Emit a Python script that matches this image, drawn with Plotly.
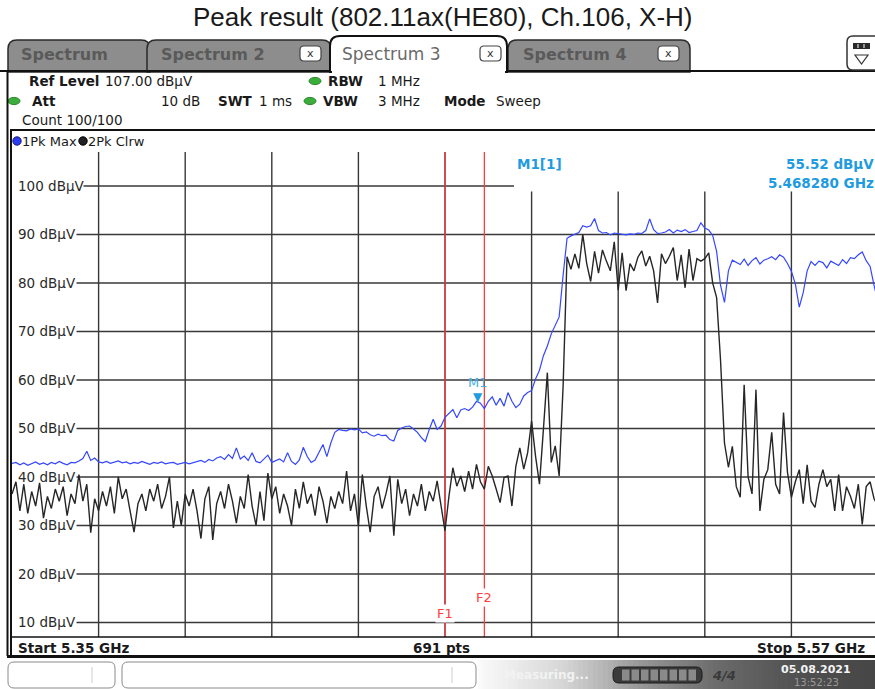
import plotly.graph_objects as go

# ---------------------------------------------------------------------------
# Sweep / display settings
# ---------------------------------------------------------------------------
F_START = 5.35          # GHz
F_STOP = 5.57           # GHz
REF_LEVEL = 107.0       # dBuV, top of the screen
BOTTOM_LEVEL = 7.0      # dBuV, 10 dB/div over 10 divisions
SWEEP_POINTS = 691

# one trace sample every 1 MHz across the span
freq_ghz = [round(F_START + 0.001 * k, 3) for k in range(221)]

# Trace 1 : 1Pk Max (dBuV)
pk_max = [
    42.8, 43.0, 42.5, 42.9, 42.4, 42.8, 43.1, 42.6, 42.9, 42.5,
    43.0, 42.7, 43.2, 42.8, 42.5, 43.0, 42.9, 43.3, 43.8, 45.3,
    43.4, 43.9, 43.1, 42.9, 43.2, 42.8, 43.0, 43.3, 42.9, 43.1,
    42.7, 43.0, 42.8, 43.2, 42.9, 42.6, 43.0, 42.8, 43.1, 42.7,
    42.9, 43.0, 42.6, 42.8, 43.0, 42.7, 42.9, 43.2, 43.4, 43.0,
    43.6, 43.3, 43.9, 44.2, 43.6, 44.6, 43.8, 46.0, 43.7, 44.3,
    43.4, 45.0, 43.2, 42.9, 43.6, 44.5, 43.0, 43.4, 43.7, 43.1,
    45.0, 43.2, 42.6, 43.5, 46.1, 44.2, 43.0, 43.5, 45.0, 46.7,
    44.2, 47.0, 49.2, 49.8, 49.6, 49.5, 49.9, 49.7, 49.9, 49.1,
    49.3, 48.7, 48.4, 48.8, 48.5, 48.6, 47.7, 47.4, 49.6, 50.1,
    50.4, 50.5, 49.9, 49.2, 48.1, 47.3, 49.8, 51.9, 49.8, 50.5,
    52.3, 53.2, 53.9, 52.2, 53.8, 54.1, 53.7, 54.4, 55.6, 55.2,
    54.1, 55.6, 56.5, 54.8, 56.2, 54.6, 57.4, 55.6, 54.3, 55.0,
    56.7, 57.4, 57.8, 60.2, 62.0, 65.0, 67.0, 69.5, 71.3, 73.0,
    81.5, 89.2, 89.7, 90.0, 90.4, 91.8, 91.5, 91.8, 93.3, 90.8,
    90.3, 90.4, 89.9, 90.3, 90.2, 90.0, 89.9, 90.1, 90.0, 90.3,
    90.2, 90.8, 93.2, 91.0, 90.2, 90.3, 90.5, 91.0, 90.3, 90.9,
    90.6, 91.0, 90.4, 90.6, 90.8, 92.4, 91.3, 90.9, 89.8, 86.5,
    79.5, 76.0, 82.5, 84.7, 84.3, 83.8, 84.9, 83.6, 84.6, 85.2,
    83.9, 84.7, 85.0, 85.4, 84.8, 85.8, 85.3, 84.0, 82.4, 79.8,
    75.0, 78.0, 82.5, 84.4, 83.6, 84.5, 84.2, 83.1, 84.5, 84.0,
    83.6, 84.8, 84.0, 85.2, 85.0, 85.8, 86.4, 84.6, 83.4, 79.5,
    76.0,
]

# Trace 2 : 2Pk Clrw (dBuV)
pk_clrw = [
    36.5, 39.0, 33.0, 38.5, 32.5, 37.0, 34.0, 38.8, 31.5, 36.0,
    33.5, 37.5, 35.0, 38.0, 32.0, 36.5, 34.5, 40.5, 35.0, 38.5,
    28.5, 35.5, 33.0, 37.0, 34.0, 38.0, 32.5, 40.0, 35.5, 37.5,
    33.0, 28.6, 34.5, 36.5, 33.0, 37.5, 35.0, 38.5, 33.5, 36.0,
    40.0, 29.5, 35.0, 30.0, 36.5, 34.0, 37.5, 33.0, 27.3, 35.5,
    38.0, 27.0, 34.5, 37.0, 33.5, 38.5, 35.0, 30.5, 36.0, 33.5,
    40.5, 34.0, 30.0, 37.0, 31.0, 40.8, 35.5, 38.0, 32.5, 36.5,
    34.0, 30.0, 37.5, 33.5, 39.0, 34.5, 36.5, 32.0, 38.0, 35.0,
    30.5, 36.0, 33.5, 37.0, 34.5, 41.2, 33.0, 36.5, 29.9, 40.5,
    34.0, 28.6, 36.0, 38.0, 33.5, 36.5, 40.2, 27.9, 39.5, 34.5,
    37.5, 32.0, 36.5, 34.0, 38.5, 33.0, 37.0, 35.0, 39.2, 34.5,
    28.9, 36.0, 41.9, 38.1, 40.2, 37.0, 41.2, 37.5, 42.6, 39.0,
    37.5, 42.2, 40.2, 37.5, 34.7, 39.9, 40.2, 34.0, 42.2, 46.0,
    41.6, 45.0, 51.5, 44.3, 38.5, 49.8, 61.5, 43.0, 46.4, 40.2,
    58.7, 85.4, 82.8, 86.0, 83.0, 90.0, 84.0, 80.3, 86.5, 82.0,
    86.8, 84.5, 82.5, 88.5, 78.5, 86.2, 78.4, 84.0, 82.5, 85.3,
    86.6, 83.5, 85.5, 82.5, 75.9, 86.0, 84.0, 85.5, 87.3, 80.5,
    85.8, 79.0, 87.0, 80.5, 85.0, 84.5, 85.0, 86.2, 80.0, 77.0,
    64.0, 47.0, 42.0, 46.3, 38.0, 35.8, 59.0, 40.0, 36.5, 58.0,
    33.0, 39.5, 41.5, 49.2, 38.5, 36.5, 53.3, 41.0, 35.8, 39.0,
    41.5, 34.5, 42.5, 35.0, 33.7, 38.5, 41.5, 38.0, 39.5, 33.0,
    40.5, 33.0, 38.0, 36.0, 33.5, 38.5, 30.2, 38.0, 39.0, 35.5,
    34.0,
]

level_ticks = [100, 90, 80, 70, 60, 50, 40, 30, 20, 10]
level_labels = [f"{v} dBµV" for v in level_ticks]

# frequency display lines (GHz)
f_line_names = ["F1", "F2"]
f_line_freqs = [5.46, 5.47]

# marker M1 on trace 1
m1_freq = 5.468280
m1_level = 55.52

title_text = "Peak result (802.11ax(HE80), Ch.106, X-H)"

# ---------------------------------------------------------------------------
# Screen geometry (pixels of the 875 x 689 page)
# ---------------------------------------------------------------------------
W, H = 875, 689
GRID_L, GRID_R = 12.0, 878.0        # the ten frequency divisions
PLOT_T, PLOT_B = 152.0, 637.0       # REF_LEVEL .. BOTTOM_LEVEL
MBOX_L, MBOX_B = 514.0, 191.5       # marker readout box in the top right

FONT = "DejaVu Sans"
MARKER_BLUE = "#1f9be0"


def px(x):
    return x / W


def py(y):
    return 1 - y / H


def level_at(ypix):
    return REF_LEVEL - (ypix - PLOT_T) / (PLOT_B - PLOT_T) * (REF_LEVEL - BOTTOM_LEVEL)


x_end = F_START + (W - GRID_L) / (GRID_R - GRID_L) * (F_STOP - F_START)

shapes = []
annotations = []


def hline(x0, x1, y, color="#111", width=2, layer="above"):
    shapes.append(dict(type="line", xref="paper", yref="paper", x0=px(x0), x1=px(x1),
                       y0=py(y), y1=py(y), line=dict(color=color, width=width), layer=layer))


def vline(x, y0, y1, color="#111", width=2, layer="above"):
    shapes.append(dict(type="line", xref="paper", yref="paper", x0=px(x), x1=px(x),
                       y0=py(y0), y1=py(y1), line=dict(color=color, width=width), layer=layer))


def rect(x0, y0, x1, y1, fill, line_color=None, width=0, layer="above"):
    shapes.append(dict(type="rect", xref="paper", yref="paper", x0=px(x0), x1=px(x1),
                       y0=py(y1), y1=py(y0), fillcolor=fill,
                       line=dict(color=line_color or fill, width=width), layer=layer))


def rounded(x0, y0, x1, y1, r, fill, line_color, width=1, top_only=False):
    if top_only:
        p = (f"M{px(x0)},{py(y1)} L{px(x0)},{py(y0 + r)} Q{px(x0)},{py(y0)} {px(x0 + r)},{py(y0)} "
             f"L{px(x1 - r)},{py(y0)} Q{px(x1)},{py(y0)} {px(x1)},{py(y0 + r)} L{px(x1)},{py(y1)} Z")
    else:
        p = (f"M{px(x0 + r)},{py(y0)} L{px(x1 - r)},{py(y0)} Q{px(x1)},{py(y0)} {px(x1)},{py(y0 + r)} "
             f"L{px(x1)},{py(y1 - r)} Q{px(x1)},{py(y1)} {px(x1 - r)},{py(y1)} "
             f"L{px(x0 + r)},{py(y1)} Q{px(x0)},{py(y1)} {px(x0)},{py(y1 - r)} "
             f"L{px(x0)},{py(y0 + r)} Q{px(x0)},{py(y0)} {px(x0 + r)},{py(y0)} Z")
    shapes.append(dict(type="path", xref="paper", yref="paper", path=p, fillcolor=fill,
                       line=dict(color=line_color, width=width), layer="above"))


def ellipse(cx, cy, rx, ry, fill, line_color):
    shapes.append(dict(type="circle", xref="paper", yref="paper", x0=px(cx - rx), x1=px(cx + rx),
                       y0=py(cy + ry), y1=py(cy - ry), fillcolor=fill,
                       line=dict(color=line_color, width=1), layer="above"))


def text(x, y, s, size=13.5, color="#1a1a1a", anchor="left", bold=False, family=FONT, bg=None):
    annotations.append(dict(x=px(x), y=py(y), xref="paper", yref="paper",
                            text=f"<b>{s}</b>" if bold else s, showarrow=False,
                            xanchor=anchor, yanchor="middle", borderpad=0,
                            bgcolor=bg, font=dict(family=family, size=size, color=color)))


# ---------------------------------------------------------------------------
# Title
# ---------------------------------------------------------------------------
text(443, 17, title_text, size=26, color="#1a1a1a", anchor="center", family="Liberation Sans")

# ---------------------------------------------------------------------------
# Tab bar
# ---------------------------------------------------------------------------
TAB_GRAY = "#8d8d8d"
rounded(8, 40, 150, 72, 9, TAB_GRAY, "#2a2a2a", 1.5, top_only=True)
rounded(147, 40, 331, 72, 9, TAB_GRAY, "#2a2a2a", 1.5, top_only=True)
rounded(508, 40, 690, 72, 9, TAB_GRAY, "#2a2a2a", 1.5, top_only=True)
hline(0, 875, 71, "#111", 2)
rounded(330, 36, 507, 72, 10, "white", "#111", 2, top_only=True)
rect(332, 69, 505, 74, "white")
text(20, 55, "Spectrum", size=16, color="#5a5a5a", bold=True)
text(160, 55, "Spectrum 2", size=16, color="#5a5a5a", bold=True)
text(341, 54, "Spectrum 3", size=17, color="#6a6a6a")
text(522, 55, "Spectrum 4", size=16, color="#5a5a5a", bold=True)
for bx in (300, 480, 658):
    rounded(bx, 46, bx + 21, 61, 4, "white", "#444", 1.2)
    text(bx + 10.5, 53.5, "x", size=11, color="#333", anchor="center")
# layout menu icon at the right end of the tab bar
rounded(847, 36, 884, 70, 6, "white", "#333", 1.5)
rect(853, 43, 870, 49, "#2a2a2a")
for sx in (858, 864):
    vline(sx, 44, 48, "white", 1)
shapes.append(dict(type="path", xref="paper", yref="paper",
                   path=f"M{px(855)},{py(55)} L{px(868)},{py(55)} L{px(861.5)},{py(64)} Z",
                   fillcolor="white", line=dict(color="#333", width=1.2), layer="above"))

# ---------------------------------------------------------------------------
# Setting readout
# ---------------------------------------------------------------------------
GREEN = "#3cad3c"
ellipse(315, 81, 6, 3.6, GREEN, "#2b8a2b")
ellipse(14, 101, 6, 3.6, GREEN, "#2b8a2b")
ellipse(310, 101, 6, 3.6, GREEN, "#2b8a2b")
text(28, 81, "Ref Level", bold=True)
text(104, 81, "107.00 dBµV")
text(327, 81, "RBW", bold=True)
text(377, 81, "1 MHz")
text(31, 101, "Att", bold=True)
text(201, 101, "10 dB", anchor="right")
text(217, 101, "SWT", bold=True)
text(258, 101, "1 ms")
text(322, 101, "VBW", bold=True)
text(377, 101, "3 MHz")
text(443, 101, "Mode", bold=True)
text(495, 101, "Sweep")
text(21, 120, "Count 100/100")

# ---------------------------------------------------------------------------
# Diagram frame
# ---------------------------------------------------------------------------
vline(7.5, 71, 656, "#111", 2)
vline(11, 130, 656, "#111", 2)
hline(10, 875, 130, "#111", 2)
hline(11, 875, PLOT_B, "#111", 1.5)
hline(7, 875, 656.5, "#111", 3)

# trace legend
ellipse(17, 141, 4.2, 4.2, "#2a3cf0", "#1a1a8a")
text(21, 141, "1Pk Max", size=13)
ellipse(83, 141, 4.2, 4.2, "#222", "#000")
text(87, 141, "2Pk Clrw", size=13)

# ---------------------------------------------------------------------------
# Graticule
# ---------------------------------------------------------------------------
GRID_COLOR = "#383838"
span = F_STOP - F_START
for k in range(1, 10):
    f = F_START + k * span / 10
    xpix = GRID_L + k * (GRID_R - GRID_L) / 10
    top = REF_LEVEL if xpix < MBOX_L else level_at(MBOX_B)
    shapes.append(dict(type="line", xref="x", yref="y", x0=f, x1=f, y0=BOTTOM_LEVEL, y1=top,
                       line=dict(color=GRID_COLOR, width=1.4), layer="below"))

for v, lab in zip(level_ticks, level_labels):
    x_start = 83.5 if v >= 100 else 76.5
    x_stop = MBOX_L if v >= 100 else W
    shapes.append(dict(type="line", xref="paper", yref="y", x0=px(x_start), x1=px(x_stop),
                       y0=v, y1=v, line=dict(color=GRID_COLOR, width=1.4), layer="below"))
    annotations.append(dict(x=px(17), y=v, xref="paper", yref="y", text=lab, showarrow=False,
                            xanchor="left", yanchor="middle", borderpad=0,
                            font=dict(family=FONT, size=13.5, color="#2a2a2a")))

# frequency lines F1 / F2
F_RED = "#ff3d3d"
f_label_y = [613, 597]
for name, f, ly in zip(f_line_names, f_line_freqs, f_label_y):
    shapes.append(dict(type="line", xref="x", yref="y", x0=f, x1=f, y0=BOTTOM_LEVEL, y1=REF_LEVEL,
                       line=dict(color=F_RED, width=1.3), layer="below"))
    annotations.append(dict(x=f, y=py(ly), xref="x", yref="paper", text=name, showarrow=False,
                            xanchor="center", yanchor="middle", bgcolor="white", borderpad=1,
                            font=dict(family=FONT, size=13, color=F_RED)))

# marker M1
annotations.append(dict(x=m1_freq, y=m1_level, xref="x", yref="y", text="▼", showarrow=False,
                        xanchor="center", yanchor="bottom", borderpad=0, yshift=-3,
                        font=dict(family=FONT, size=12, color=MARKER_BLUE)))
annotations.append(dict(x=m1_freq, y=m1_level, xref="x", yref="y", text="M1", showarrow=False,
                        xanchor="center", yanchor="bottom", borderpad=0, yshift=11,
                        font=dict(family=FONT, size=13, color="#45aee3")))

# marker readout
text(516, 163.5, "M1[1]", size=13.5, color=MARKER_BLUE, bold=True)
text(875, 163.5, f"{m1_level:.2f} dBµV", size=13.5, color=MARKER_BLUE, anchor="right", bold=True)
text(875, 182.5, f"{m1_freq:.6f} GHz", size=13.5, color=MARKER_BLUE, anchor="right", bold=True)

# ---------------------------------------------------------------------------
# Span annotation row
# ---------------------------------------------------------------------------
text(17, 647.5, f"Start {F_START:.2f} GHz", bold=True)
text(441, 647.5, f"{SWEEP_POINTS} pts", bold=True, anchor="center")
text(866, 647.5, f"Stop {F_STOP:.2f} GHz", bold=True, anchor="right")

# ---------------------------------------------------------------------------
# Status bar
# ---------------------------------------------------------------------------
rounded(8, 662, 115, 688, 6, "white", "#8a8a8a", 1)
vline(92, 667, 683, "#cfcfcf", 1)
rounded(122, 662, 476, 688, 6, "white", "#8a8a8a", 1)
vline(452, 667, 683, "#cfcfcf", 1)
stops = [(478, 250), (560, 215), (640, 150), (720, 105), (800, 80), (876, 70)]
x = 478
while x < 876:
    for (a, ga), (b, gb) in zip(stops[:-1], stops[1:]):
        if a <= x < b:
            g = int(ga + (gb - ga) * (x - a) / (b - a))
            break
    rect(x, 660, x + 5, 689, f"rgb({g},{g},{g})")
    x += 5
text(503, 675, "<b>Measuring...</b>", size=12, color="#f2f2f2")
rounded(613, 667, 702, 683, 6, "#3a3a3a", "#1a1a1a", 1)
for k in range(8):
    rect(622 + k * 9.5, 669.5, 629.5 + k * 9.5, 680.5, "#8a8a8a")
text(724, 675, "<b><i>4/4</i></b>", size=13, color="#3a3a3a", anchor="center")
text(816, 669, "<b>05.08.2021</b>", size=11, color="#f4f4f4", anchor="center")
text(816, 682, "13:52:23", size=10, color="#9a9a9a", anchor="center")

# ---------------------------------------------------------------------------
# Traces
# ---------------------------------------------------------------------------
fig = go.Figure()
fig.add_trace(go.Scatter(x=freq_ghz, y=pk_clrw, mode="lines", name="2Pk Clrw",
                         line=dict(color="#262626", width=1.4)))
fig.add_trace(go.Scatter(x=freq_ghz, y=pk_max, mode="lines", name="1Pk Max",
                         line=dict(color="#3447ff", width=1.2)))

fig.update_layout(
    width=W, height=H,
    margin=dict(l=0, r=0, t=0, b=0),
    paper_bgcolor="white",
    plot_bgcolor="rgba(0,0,0,0)",
    showlegend=False,
    xaxis=dict(domain=[px(GRID_L), 1], range=[F_START, x_end], visible=False, fixedrange=True),
    yaxis=dict(domain=[py(PLOT_B), py(PLOT_T)], range=[BOTTOM_LEVEL, REF_LEVEL], visible=False,
               fixedrange=True),
    shapes=shapes,
    annotations=annotations,
)

fig.write_html("out.html", config={"displayModeBar": False})
